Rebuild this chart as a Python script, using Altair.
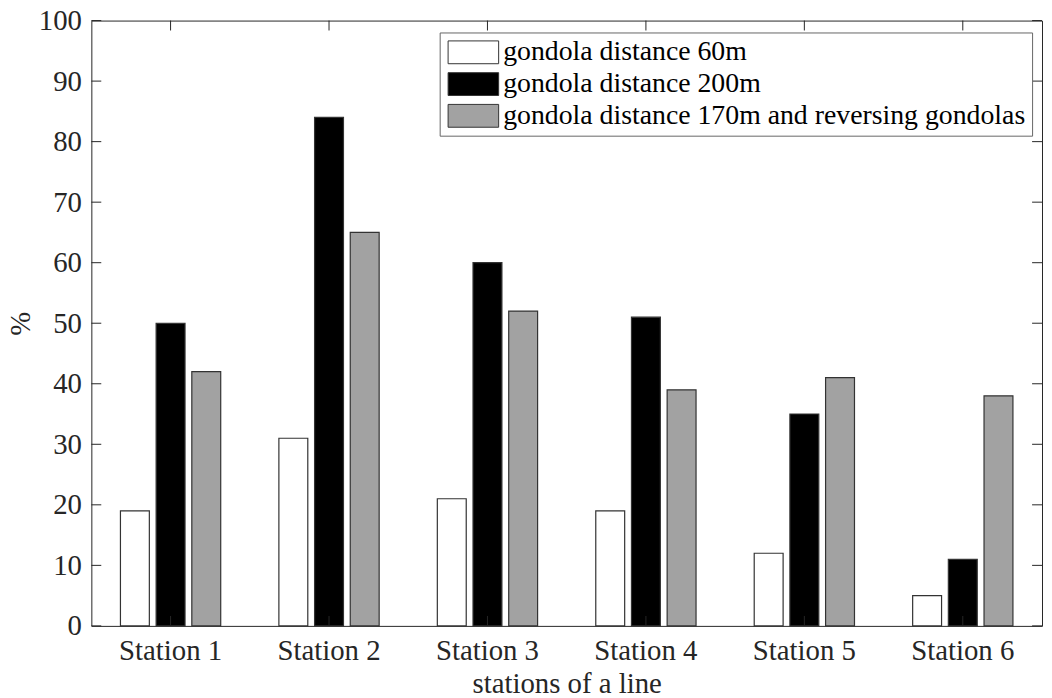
import altair as alt
import pandas as pd

stations = ["Station 1", "Station 2", "Station 3", "Station 4", "Station 5", "Station 6"]
series_names = [
    "gondola distance 60m",
    "gondola distance 200m",
    "gondola distance 170m and reversing gondolas",
]
d60 = [19, 31, 21, 19, 12, 5]
d200 = [50, 84, 60, 51, 35, 11]
d170 = [42, 65, 52, 39, 41, 38]
y_ticks = [0, 10, 20, 30, 40, 50, 60, 70, 80, 90, 100]

FONT = "Liberation Serif"
FS = 29
LFS = 28
AX = "#262626"
W, H = 958, 610

rows = []
for name, vals in zip(series_names, [d60, d200, d170]):
    for s, v in zip(stations, vals):
        rows.append({"station": s, "series": name, "value": v})
df = pd.DataFrame(rows)
df_st = pd.DataFrame({"station": stations})
df_y = pd.DataFrame({"v": y_ticks})

xscale = alt.Scale(domain=stations, paddingInner=0, paddingOuter=0)
yscale = alt.Scale(domain=[0, 100], nice=False, zero=True)

bars = alt.Chart(df).mark_bar(stroke="#333333", strokeWidth=1.2).encode(
    x=alt.X(
        "station:N",
        scale=xscale,
        sort=stations,
        axis=alt.Axis(
            title="stations of a line",
            labelAngle=0,
            ticks=False,
            tickSize=0,
            domain=False,
            labelPadding=11,
            titlePadding=4,
        ),
    ),
    xOffset=alt.XOffset(
        "series:N",
        sort=series_names,
        scale=alt.Scale(domain=series_names, paddingInner=0.19, paddingOuter=0.815),
    ),
    y=alt.Y(
        "value:Q",
        scale=yscale,
        axis=alt.Axis(
            title="%",
            values=y_ticks,
            ticks=False,
            tickSize=0,
            domain=False,
            grid=False,
            labelPadding=10,
            titlePadding=3,
        ),
    ),
    fill=alt.Fill(
        "series:N",
        sort=series_names,
        scale=alt.Scale(domain=series_names, range=["#ffffff", "#000000", "#a2a2a2"]),
        legend=alt.Legend(
            title=None,
            orient="none",
            legendX=351,
            legendY=12,
            fillColor="#ffffff",
            strokeColor="#666666",
            padding=6,
            symbolType="M-1,-1H3.43V1H-1Z",
            symbolSize=529,
            symbolStrokeColor="#333333",
            symbolStrokeWidth=1,
            symbolOpacity=1,
            labelOffset=30,
            labelFont=FONT,
            labelFontSize=LFS,
            labelColor="#000000",
            labelLimit=0,
            rowPadding=4,
        ),
    ),
)

tick_style = dict(color=AX, strokeWidth=1)
left_ticks = alt.Chart(df_y).mark_rule(**tick_style).encode(
    y=alt.Y("v:Q", scale=yscale), x=alt.value(0), x2=alt.value(10)
)
right_ticks = alt.Chart(df_y).mark_rule(**tick_style).encode(
    y=alt.Y("v:Q", scale=yscale), x=alt.value(W), x2=alt.value(W - 10)
)
bottom_ticks = alt.Chart(df_st).mark_rule(**tick_style).encode(
    x=alt.X("station:N", scale=xscale, sort=stations), y=alt.value(H), y2=alt.value(H - 10)
)
top_ticks = alt.Chart(df_st).mark_rule(**tick_style).encode(
    x=alt.X("station:N", scale=xscale, sort=stations), y=alt.value(0), y2=alt.value(10)
)

chart = (
    alt.layer(bars, left_ticks, right_ticks, bottom_ticks, top_ticks)
    .properties(
        width=W,
        height=H,
        background="white",
        padding={"left": 84, "top": 10, "right": 2, "bottom": 70},
        autosize=alt.AutoSizeParams(type="none"),
    )
    .configure_view(stroke=AX, strokeWidth=1)
    .configure_axis(
        labelFont=FONT,
        labelFontSize=FS,
        labelColor=AX,
        titleFont=FONT,
        titleFontSize=FS,
        titleColor=AX,
        titleFontWeight="normal",
    )
    .configure_legend(labelFont=FONT, labelFontSize=LFS, labelColor="#000000")
)

chart.save("out.html", embed_options={"renderer": "svg", "actions": False})
